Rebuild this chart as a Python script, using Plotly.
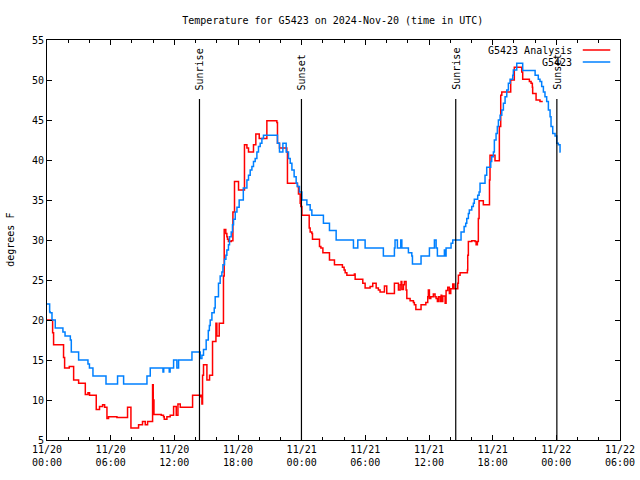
import pandas as pd
import plotly.graph_objects as go

# ---------------- data (hours since 2024-11-20 00:00 UTC, deg F) ----------------
obs_hours = [0, 0.25, 0.31, 0.47, 0.78, 1.5, 1.7, 2.2, 2.29, 2.98, 3.86, 4.0, 4.33, 5.56, 6.65, 7.22,
             9.42, 9.73, 10.93, 11.0, 11.52, 11.6, 11.93, 12.24, 12.4, 13.66, 14.44, 14.6, 14.75,
             15.0, 15.2, 15.3, 15.38, 15.54, 15.76, 15.85, 16.16, 16.32, 16.48, 16.58, 16.73, 16.86,
             16.95, 17.1, 17.2, 17.36, 17.48, 17.58, 17.74, 17.9, 18.11, 18.5, 18.84, 18.99, 19.15,
             19.31, 19.46, 19.62, 19.78, 19.93, 20.09, 20.25, 20.4, 21.72, 21.91, 22.23, 22.54, 22.76,
             22.92, 23.08, 23.29, 23.48, 23.6, 23.79, 24.02, 24.49, 24.8, 24.96, 26.05, 26.62, 27.25,
             28.88, 29.29, 29.98, 31.7, 32.74, 32.8, 33.02, 33.34, 33.44, 34.06, 34.38, 34.44, 35.25,
             36.04, 36.51, 36.67, 36.79, 37.45, 37.52, 37.61, 38.08, 38.24, 39.02, 39.31, 39.46,
             39.56, 39.71, 39.8, 40.03, 40.18, 40.27, 40.59, 40.72, 40.81, 41.28, 41.44, 41.82, 41.91,
             42.07, 42.16, 42.32, 42.44, 42.54, 42.7, 42.86, 43.01, 43.17, 43.33, 43.48, 43.64, 43.89,
             43.95, 44.27, 44.83, 46.0, 46.3, 46.46, 46.62, 46.78, 46.93, 47.09, 47.25, 47.41, 47.5,
             47.66, 47.88, 48.04, 48.19, 48.35, 48.41]
obs_temp = [22, 21, 20.9, 20, 19, 18.5, 18, 17.5, 16, 15, 14.5, 14, 13, 12, 13, 12,
            13, 14, 13.5, 14, 13.5, 14, 15, 14, 15, 16, 15.2, 15.6, 16.3,
            17.5, 18.7, 19.3, 20, 20.9, 21.5, 22.9, 24.6, 25.5, 26, 26.9, 27.6, 28.1,
            28.75, 29.4, 30.4, 31, 31.9, 32.6, 33.5, 34.1, 35, 36.5, 37.5, 38.1, 38.75,
            39.2, 39.8, 40.2, 41, 41.7, 42.1, 42.7, 43.1, 42.1, 41, 42.1, 41, 40.2,
            39.6, 38.75, 37.9, 37.1, 36.7, 36, 35, 34.4, 33.75, 33.1, 32.1, 31.2, 30,
            29, 30, 29, 28, 29, 30, 29, 30, 29, 28.4, 28, 27, 28,
            29, 30, 29, 28, 28.75, 28, 29, 29.6, 30, 31, 31.7, 32.1,
            32.7, 33.3, 33.75, 34.2, 34.6, 35.1, 35.6, 36, 37.1, 38.1, 39.1, 39.8, 40.4,
            41, 42.5, 43.3, 44.2, 45, 45.6, 46.25, 47.1, 47.9, 48.75, 49.6, 50.1, 50.6,
            51.25, 52.1, 51.2, 50.6, 50.1, 49.8, 49.2, 48.5, 47.9, 47.3, 46.25, 45.4, 44.2,
            43.3, 43, 42.1, 41.9, 41, 41]

ana_hours = [0, 0.53, 0.62, 1.56, 1.66, 2.1, 2.51, 2.98, 3.61, 3.86, 4.01, 4.64, 4.95, 5.24, 5.43,
             5.65, 5.8, 6.59, 7.59, 7.91, 8.63, 9.0, 9.26, 9.48, 9.95, 10.01, 10.08, 10.77, 10.98,
             11.05, 11.3, 11.61, 11.93, 12.18, 12.34, 12.56, 13.72, 14.44, 14.53, 14.6, 14.66, 14.75,
             15.07, 15.32, 15.6, 15.92, 16.01, 16.23, 16.63, 16.7, 16.85, 16.95, 17.01, 17.1, 17.36,
             17.52, 17.67, 18.05, 18.61, 18.84, 18.99, 19.46, 19.68, 20.0, 20.72, 21.66, 21.72, 21.91,
             22.6, 22.66, 23.6, 23.7, 23.86, 23.92, 24.02, 24.71, 24.8, 24.96, 25.02, 25.68, 25.81,
             26.0, 26.62, 27.09, 27.84, 28.0, 28.1, 28.26, 28.97, 29.04, 29.76, 29.98, 30.45, 30.7,
             31.02, 31.23, 31.39, 31.8, 32.02, 32.74, 33.12, 33.28, 33.37, 33.44, 33.59, 33.68, 33.84,
             33.91, 34.22, 34.53, 34.62, 34.76, 35.25, 35.7, 35.88, 35.94, 36.04, 36.17, 36.41, 36.57,
             36.67, 36.79, 36.88, 37.04, 37.14, 37.2, 37.3, 37.52, 37.61, 37.77, 37.92, 38.05, 38.24,
             38.36, 38.71, 38.77, 38.93, 39.62, 39.65, 39.71, 40.03, 40.34, 40.44, 40.56, 40.65,
             40.72, 41.12, 41.7, 41.75, 42.22, 42.63, 42.76, 42.86, 43.7, 44.04, 44.74, 44.83, 45.46,
             45.62, 45.74, 45.77, 46.09, 46.46, 46.72]
ana_temp = [20, 18.4, 16.9, 15.3, 14, 14.2, 12.5, 12.1, 10.7, 10.9, 10.6, 8.8, 9.2, 9.4, 9.1,
            7.7, 7.9, 7.8, 9.1, 6.5, 6.9, 7.3, 6.9, 7.3, 11.9, 10, 8.2, 8.1, 7.9,
            7.6, 7.9, 8.1, 9.2, 8.1, 9.5, 9.1, 10.6, 10.4, 10.6, 9.5, 13.1, 14.4,
            12.5, 13.1, 17.3, 19.6, 18, 19.6, 25.5, 31.3, 30.8, 30.4, 30.1, 29.8, 29.9,
            33.5, 37.3, 36.25, 41.9, 41.5, 41, 41.9, 43.25, 42.7, 44.9, 44.7, 42.1, 41.5,
            41, 37.1, 36.7, 35.75, 34.6, 34.2, 33.1, 31.5, 31, 30.8, 30.1, 29.2, 29,
            28.4, 27.5, 26.9, 26.6, 26.25, 25.9, 25.6, 25.75, 25.1, 24.6, 24, 24.2, 24.6,
            24, 23.75, 23.5, 24.25, 23.3, 24.6, 23.75, 24.4, 24.8, 23.8, 24.4, 24.8, 23.75,
            22.7, 22.4, 22.2, 21.9, 21.3, 21.9, 22.2, 22.9, 23.75, 22.7, 22.9, 23.25, 22.9,
            22.7, 22.3, 22.9, 22.3, 23.1, 22.3, 23, 22.1, 23.7, 24.1, 23.3, 23.9, 24.5,
            23.9, 24.6, 25.6, 25.9, 26.25, 28.1, 29.8, 29.9, 29.8, 29.4, 29.8, 32.7,
            34.9, 34.4, 37.5, 40.6, 39.9, 44.2, 48.1, 48.5, 50, 51.6, 51, 50.1, 49.8,
            49.6, 49.1, 48.3, 47.5, 47.3, 47.3]

sun_labels = ["Sunrise", "Sunset", "Sunrise", "Sunset"]
sun_hours = [14.37, 23.98, 38.52, 48.05]

tick_hours = [0, 6, 12, 18, 24, 30, 36, 42, 48, 54]
tick_labels = ["11/20<br>00:00", "11/20<br>06:00", "11/20<br>12:00", "11/20<br>18:00",
               "11/21<br>00:00", "11/21<br>06:00", "11/21<br>12:00", "11/21<br>18:00",
               "11/22<br>00:00", "11/22<br>06:00"]

series_names = ["G5423 Analysis", "G5423"]
series_colors = ["#ff0000", "#0080ff"]

# ---------------- build ----------------
base = pd.Timestamp("2024-11-20 00:00")
def to_t(h):
    return base + pd.to_timedelta(pd.Series(h, dtype=float), unit="h")

FONT = "DejaVu Sans Mono"
fig = go.Figure()
fig.add_trace(go.Scatter(x=to_t(ana_hours), y=ana_temp, mode="lines", line_shape="hv",
                         line=dict(color=series_colors[0], width=1.5), name=series_names[0]))
fig.add_trace(go.Scatter(x=to_t(obs_hours), y=obs_temp, mode="lines", line_shape="hv",
                         line=dict(color=series_colors[1], width=1.5), name=series_names[1]))

sun_t = to_t(sun_hours)
for lab, t in zip(sun_labels, sun_t):
    fig.add_shape(type="line", xref="x", yref="paper", x0=t, x1=t, y0=0, y1=0.8525,
                  line=dict(color="black", width=1.2))
    fig.add_annotation(x=t, xref="x", y=0.87, yref="paper", text=lab, textangle=-90,
                       showarrow=False, xanchor="center", yanchor="bottom",
                       font=dict(family=FONT, size=10, color="black"))

# gnuplot-style legend (text right, sample line right of it)
leg_y = [0.975, 0.945]
for name, col, yy in zip(series_names, series_colors, leg_y):
    fig.add_annotation(x=0.919, xref="paper", y=yy, yref="paper", text=name, showarrow=False,
                       xanchor="right", yanchor="middle", font=dict(family=FONT, size=10, color="black"))
    fig.add_shape(type="line", xref="paper", yref="paper", x0=0.935, x1=0.983, y0=yy, y1=yy,
                  line=dict(color=col, width=1.5))

# y-axis title placed like gnuplot
fig.add_annotation(x=-0.065, xref="paper", y=0.5, yref="paper", text="degrees F", textangle=-90,
                   showarrow=False, xanchor="center", yanchor="middle",
                   font=dict(family=FONT, size=10, color="black"))

fig.update_layout(
    width=640, height=480,
    margin=dict(l=47, r=20, t=40, b=40, autoexpand=False),
    paper_bgcolor="white", plot_bgcolor="white",
    showlegend=False,
    font=dict(family=FONT, size=10, color="black"),
    title=dict(text="Temperature for G5423 on 2024-Nov-20 (time in UTC)", x=0.52, xanchor="center",
               xref="container", yref="container", y=1 - 20 / 480, yanchor="middle",
               font=dict(family=FONT, size=10, color="black")),
    xaxis=dict(type="date", range=[to_t([0])[0], to_t([54])[0]], automargin=False,
               tickvals=to_t(tick_hours), ticktext=tick_labels,
               showgrid=False, zeroline=False, showline=True, linecolor="black", linewidth=1,
               mirror="allticks", ticks="inside", ticklen=5, tickcolor="black",
               minor=dict(dtick=7200000, tick0=base, ticks="inside", ticklen=3, tickcolor="black"),
               tickfont=dict(family=FONT, size=10)),
    yaxis=dict(range=[5, 55], dtick=5, showgrid=False, zeroline=False, showline=True, automargin=False,
               linecolor="black", linewidth=1, mirror="allticks", ticks="inside", ticklen=5,
               tickcolor="black", tickfont=dict(family=FONT, size=10)),
)

fig.write_html("out.html", config={"displayModeBar": False},
               post_script="document.body.style.margin='0px';")
